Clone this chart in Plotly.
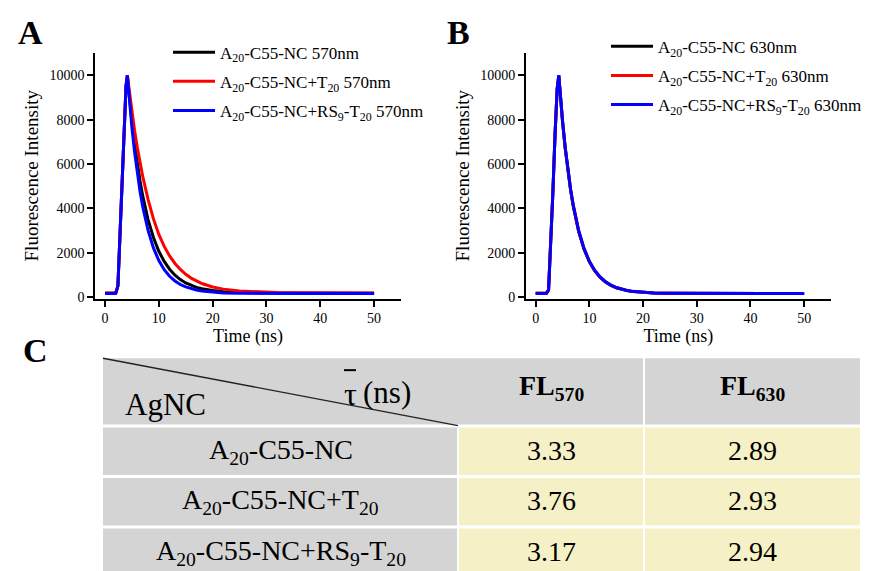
import plotly.graph_objects as go

# ---------------- data ----------------
time_A = [0, 1, 2, 2.4, 2.8, 3.2, 3.6, 3.9, 4.15, 4.5, 5, 5.5, 6, 6.5, 7, 8, 9, 10, 11, 12,
          13, 14, 15, 16, 17, 18, 20, 22, 25, 28, 32, 36, 40, 45, 50]
black_570 = [170, 170, 180, 500, 2700, 5000, 7600, 9500, 10000, 9080, 7910, 6890, 6010, 5240, 4570,
             3490, 2680, 2060, 1600, 1250, 980, 780, 630, 520, 430, 370, 285, 235, 200, 182, 175,
             172, 170, 170, 170]
red_570 = [180, 180, 190, 500, 2700, 5000, 7600, 9500, 10000, 9280, 8350, 7500, 6750, 6050, 5450,
           4400, 3520, 2820, 2280, 1850, 1510, 1240, 1020, 850, 715, 605, 450, 352, 268, 225, 198,
           188, 184, 181, 180]
blue_570 = [150, 150, 160, 500, 2700, 5000, 7600, 9500, 10000, 8950, 7640, 6530, 5580, 4770, 4080,
            3000, 2210, 1640, 1230, 930, 720, 560, 450, 370, 310, 265, 210, 180, 165, 155, 152,
            150, 150, 150, 150]

time_B = [0, 1, 2, 2.4, 2.8, 3.2, 3.6, 4.0, 4.3, 4.6, 5, 5.5, 6, 6.5, 7, 8, 9, 10, 11, 12,
          13, 14, 15, 16, 17, 18, 20, 22, 25, 28, 32, 36, 40, 45, 50]
black_630 = [160, 160, 170, 320, 2200, 4700, 7300, 9400, 10000, 9040, 7910, 6700, 5680, 4810, 4090,
             2950, 2150, 1580, 1170, 880, 670, 520, 415, 340, 285, 247, 200, 176, 163, 157, 153,
             151, 150, 150, 150]
red_630 = [160, 160, 170, 320, 2200, 4700, 7300, 9400, 10000, 9050, 7930, 6730, 5710, 4850, 4130,
           2990, 2180, 1600, 1190, 895, 685, 530, 422, 345, 290, 250, 202, 177, 164, 158, 154,
           151, 150, 150, 150]
blue_630 = [150, 150, 160, 300, 2200, 4700, 7300, 9400, 10000, 9055, 7940, 6740, 5720, 4860, 4140,
            3000, 2190, 1610, 1195, 900, 688, 532, 424, 347, 291, 251, 203, 178, 164, 158, 154,
            151, 150, 150, 150]

series_names = ["A<sub>20</sub>-C55-NC", "A<sub>20</sub>-C55-NC+T<sub>20</sub>",
                "A<sub>20</sub>-C55-NC+RS<sub>9</sub>-T<sub>20</sub>"]
series_colors = ["#000000", "#ff0000", "#0000ff"]

x_ticks = [0, 10, 20, 30, 40, 50]
y_ticks = [0, 2000, 4000, 6000, 8000, 10000]

# table data
table_rows = ["A<sub>20</sub>-C55-NC", "A<sub>20</sub>-C55-NC+T<sub>20</sub>",
              "A<sub>20</sub>-C55-NC+RS<sub>9</sub>-T<sub>20</sub>"]
table_cols = ["FL<sub>570</sub>", "FL<sub>630</sub>"]
tau_570 = ["3.33", "3.76", "3.17"]
tau_630 = ["2.89", "2.93", "2.94"]

# ---------------- helpers ----------------
W, H = 875, 571
SERIF = "Liberation Serif"


def px(x):
    return x / W


def py(y):
    return 1 - y / H


fig = go.Figure()

for name, ys, col in zip(series_names, [black_570, red_570, blue_570], series_colors):
    fig.add_trace(go.Scatter(x=time_A, y=ys, mode="lines", name=name + " 570nm",
                             line=dict(color=col, width=3), xaxis="x", yaxis="y",
                             legend="legend", legendgroup="a" + name))
for name, ys, col in zip(series_names, [black_630, red_630, blue_630], series_colors):
    fig.add_trace(go.Scatter(x=time_B, y=ys, mode="lines", name=name + " 630nm",
                             line=dict(color=col, width=3), xaxis="x2", yaxis="y2",
                             legend="legend2", legendgroup="b" + name))

axis_common = dict(showline=True, linecolor="black", linewidth=1.5, ticks="outside",
                   ticklen=6, tickwidth=1.5, tickcolor="black", showgrid=False,
                   zeroline=False, tickfont=dict(family=SERIF, size=14, color="black"))

xa = dict(axis_common, range=[-1.86, 55.0], tickvals=x_ticks,
          title=dict(text="Time (ns)", font=dict(family=SERIF, size=18, color="black"), standoff=4))
ya = dict(axis_common, range=[-90, 11030], tickvals=y_ticks, tickformat="d",
          title=dict(text="Fluorescence Intensity", font=dict(family=SERIF, size=19, color="black"),
                     standoff=6))

legend_common = dict(xanchor="left", yanchor="top", bgcolor="rgba(0,0,0,0)",
                     font=dict(family=SERIF, size=17, color="black"), tracegroupgap=4,
                     itemwidth=42)

fig.update_layout(
    width=W, height=H,
    margin=dict(l=0, r=0, t=0, b=0),
    paper_bgcolor="white", plot_bgcolor="white",
    font=dict(family=SERIF, color="black"),
    xaxis=dict(xa, domain=[px(87), px(393)], anchor="y"),
    yaxis=dict(ya, domain=[py(294), py(45)], anchor="x"),
    xaxis2=dict(xa, domain=[px(517.7), px(823)], anchor="y2"),
    yaxis2=dict(ya, domain=[py(294), py(45)], anchor="x2"),
    legend=dict(legend_common, x=px(160), y=py(27)),
    legend2=dict(legend_common, x=px(598), y=py(21)),
    showlegend=True,
)

annotations = []
shapes = []

# panel letters
for letter, x, y in [("A", 8, 25), ("B", 437, 25), ("C", 13, 346)]:
    annotations.append(dict(text="<b>" + letter + "</b>", x=px(x), y=py(y), xref="paper",
                            yref="paper", xanchor="left", yanchor="middle", showarrow=False,
                            font=dict(family=SERIF, size=34, color="black")))

# ---------------- table C ----------------
GRAY = "#d4d4d4"
YELLOW = "#f6f0c6"
col_x = [95, 450, 636, 852]
head_y = (354, 421)
row_y = [(424, 472), (475, 523), (526, 574)]

# header background
shapes.append(dict(type="rect", xref="paper", yref="paper", x0=px(col_x[0]), x1=px(col_x[2] - 1),
                   y0=py(head_y[1]), y1=py(head_y[0]), fillcolor=GRAY, line=dict(width=0),
                   layer="below"))
shapes.append(dict(type="rect", xref="paper", yref="paper", x0=px(col_x[2] + 1), x1=px(col_x[3]),
                   y0=py(head_y[1]), y1=py(head_y[0]), fillcolor=GRAY, line=dict(width=0),
                   layer="below"))
for (y0, y1) in row_y:
    shapes.append(dict(type="rect", xref="paper", yref="paper", x0=px(col_x[0]), x1=px(col_x[1] - 1),
                       y0=py(y1), y1=py(y0), fillcolor=GRAY, line=dict(width=0), layer="below"))
    shapes.append(dict(type="rect", xref="paper", yref="paper", x0=px(col_x[1] + 1), x1=px(col_x[2] - 1),
                       y0=py(y1), y1=py(y0), fillcolor=YELLOW, line=dict(width=0), layer="below"))
    shapes.append(dict(type="rect", xref="paper", yref="paper", x0=px(col_x[2] + 1), x1=px(col_x[3]),
                       y0=py(y1), y1=py(y0), fillcolor=YELLOW, line=dict(width=0), layer="below"))

# diagonal in corner cell
shapes.append(dict(type="line", xref="paper", yref="paper", x0=px(col_x[0]), y0=py(head_y[0]),
                   x1=px(col_x[1]), y1=py(head_y[1] + 1), line=dict(color="#222222", width=1.4)))
# bar over tau
shapes.append(dict(type="line", xref="paper", yref="paper", x0=px(336), x1=px(348), y0=py(366),
                   y1=py(366), line=dict(color="black", width=2)))

annotations.append(dict(text="AgNC", x=px(115), y=py(401), xref="paper", yref="paper",
                        xanchor="left", yanchor="middle", showarrow=False,
                        font=dict(family=SERIF, size=31, color="black")))
annotations.append(dict(text="τ", x=px(342), y=py(390), xref="paper", yref="paper",
                        xanchor="center", yanchor="middle", showarrow=False,
                        font=dict(family=SERIF, size=32, color="black")))
annotations.append(dict(text="(ns)", x=px(353), y=py(389), xref="paper", yref="paper",
                        xanchor="left", yanchor="middle", showarrow=False,
                        font=dict(family=SERIF, size=31, color="black")))

for c, label in enumerate(table_cols):
    xc = (col_x[c + 1] + col_x[c + 2]) / 2
    annotations.append(dict(text="<b>" + label + "</b>", x=px(xc), y=py(384), xref="paper",
                            yref="paper", xanchor="center", yanchor="middle", showarrow=False,
                            font=dict(family=SERIF, size=28, color="black")))

for r, label in enumerate(table_rows):
    yc = (row_y[r][0] + row_y[r][1]) / 2
    annotations.append(dict(text=label, x=px((col_x[0] + col_x[1]) / 2), y=py(yc), xref="paper",
                            yref="paper", xanchor="center", yanchor="middle", showarrow=False,
                            font=dict(family=SERIF, size=28, color="black")))
    for c, vals in enumerate([tau_570, tau_630]):
        xc = (col_x[c + 1] + col_x[c + 2]) / 2
        annotations.append(dict(text=vals[r], x=px(xc), y=py(yc - 1), xref="paper", yref="paper",
                                xanchor="center", yanchor="middle", showarrow=False,
                                font=dict(family=SERIF, size=28, color="black")))

fig.update_layout(annotations=annotations, shapes=shapes)

fig.write_html("out.html")
